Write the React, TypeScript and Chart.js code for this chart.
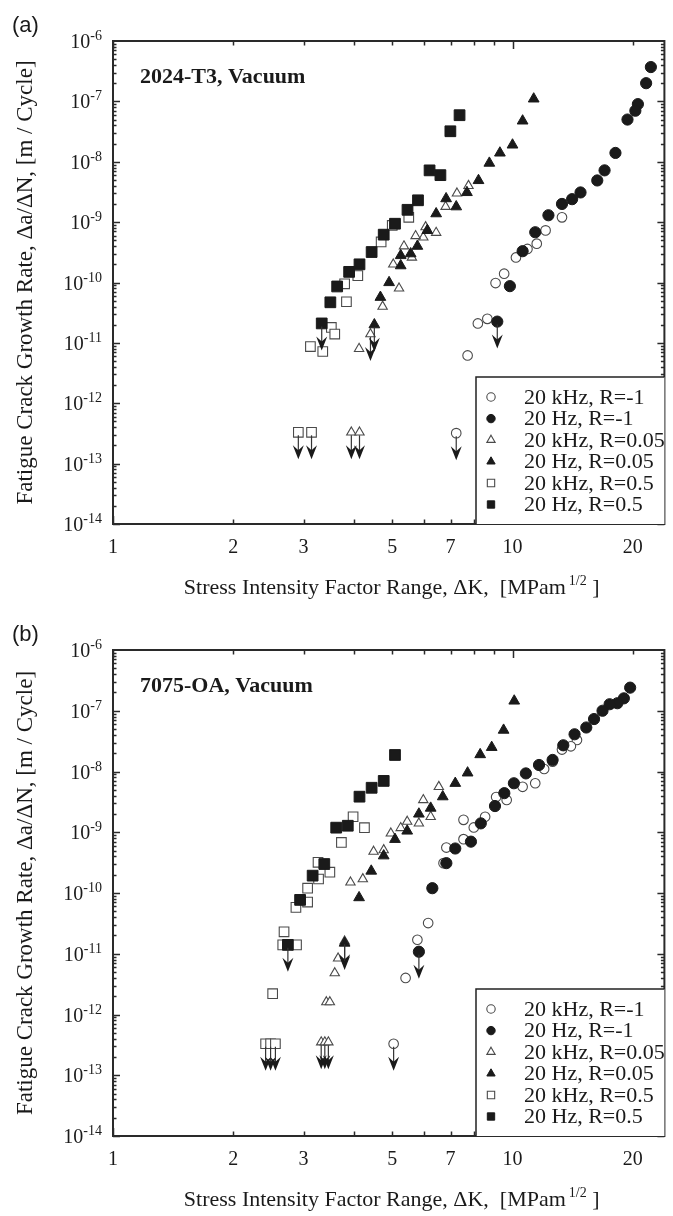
import React, { useEffect, useRef } from "react";
import { Chart, registerables } from "chart.js";

Chart.register(...registerables);

// ---------------- DATA (ΔK [MPa√m], da/dN [m/cycle]) ----------------
// Panel (a) 2024-T3, Vacuum
const A_KHZ_RM1: [number, number][] = [
  [13.3, 1.2e-9], [12.1, 7.3e-10], [11.5, 4.4e-10], [10.9, 3.6e-10], [10.2, 2.6e-10],
  [9.53, 1.4e-10], [9.07, 9.8e-11], [8.65, 2.5e-11], [8.19, 2.1e-11], [7.72, 6.2e-12],
];
const A_KHZ_RM1_LIM: [number, number][] = [[7.23, 3.2e-13]];

const A_HZ_RM1: [number, number][] = [
  [22.2, 3.7e-7], [21.6, 2.0e-7], [20.6, 9.0e-8], [20.3, 7.0e-8], [19.4, 5.0e-8],
  [18.1, 1.4e-8], [17.0, 7.2e-9], [16.3, 4.9e-9], [14.8, 3.1e-9], [14.1, 2.4e-9],
  [13.3, 2.0e-9], [12.3, 1.3e-9], [11.4, 6.8e-10], [10.6, 3.3e-10], [9.85, 8.7e-11],
];
const A_HZ_RM1_LIM: [number, number][] = [[9.16, 2.25e-11]];

const A_KHZ_R005: [number, number][] = [
  [7.76, 4.0e-9], [7.26, 3.0e-9], [6.8, 1.8e-9], [6.44, 6.7e-10], [6.06, 8.3e-10],
  [5.98, 5.6e-10], [5.72, 5.9e-10], [5.6, 2.6e-10], [5.35, 4.0e-10], [5.03, 2.0e-10],
  [5.2, 8.0e-11], [4.73, 4.0e-11], [4.13, 8.0e-12],
];
const A_KHZ_R005_LIM: [number, number][] = [[4.41, 1.4e-11], [3.95, 3.3e-13], [4.14, 3.3e-13]];

const A_HZ_R005: [number, number][] = [
  [11.3, 1.1e-7], [10.6, 4.75e-8], [10.0, 1.9e-8], [9.3, 1.4e-8], [8.75, 9.5e-9],
  [8.22, 4.9e-9], [7.69, 3.1e-9], [7.23, 1.8e-9], [6.82, 2.45e-9], [6.44, 1.38e-9],
  [6.12, 7.3e-10], [5.78, 4.0e-10], [5.56, 3.0e-10], [5.25, 2.8e-10], [5.25, 1.9e-10],
  [4.91, 1.0e-10], [4.67, 5.7e-11],
];
const A_HZ_R005_LIM: [number, number][] = [[4.51, 2.0e-11]];

const A_KHZ_R05: [number, number][] = [
  [5.5, 1.2e-9], [5.0, 8.8e-10], [4.69, 4.7e-10], [4.1, 1.3e-10], [3.8, 9.5e-11],
  [3.84, 4.8e-11], [3.52, 1.8e-11], [3.59, 1.4e-11], [3.12, 8.7e-12], [3.35, 7.2e-12],
];
const A_KHZ_R05_LIM: [number, number][] = [[2.91, 3.3e-13], [3.14, 3.3e-13]];

const A_HZ_R05: [number, number][] = [
  [7.37, 5.9e-8], [6.99, 3.2e-8], [6.2, 7.2e-9], [6.6, 6.0e-9], [5.8, 2.3e-9],
  [5.46, 1.6e-9], [5.08, 9.4e-10], [4.76, 6.2e-10], [4.44, 3.2e-10], [4.14, 2.0e-10],
  [3.9, 1.5e-10], [3.64, 8.6e-11], [3.5, 4.7e-11],
];
const A_HZ_R05_LIM: [number, number][] = [[3.33, 2.1e-11]];

// Panel (b) 7075-OA, Vacuum
const B_KHZ_RM1: [number, number][] = [
  [14.5, 3.3e-8], [14.0, 2.6e-8], [13.3, 2.3e-8], [12.6, 1.45e-8], [12.0, 1.1e-8],
  [11.4, 6.4e-9], [10.6, 5.6e-9], [9.67, 3.4e-9], [9.1, 3.8e-9], [8.54, 1.8e-9],
  [8.0, 1.2e-9], [7.54, 1.6e-9], [7.54, 7.7e-10], [6.83, 5.6e-10], [6.72, 3.1e-10],
  [6.15, 3.2e-11], [5.78, 1.7e-11], [5.4, 4.0e-12],
];
const B_KHZ_RM1_LIM: [number, number][] = [[5.04, 3.3e-13]];

const B_HZ_RM1: [number, number][] = [
  [19.7, 2.4e-7], [19.0, 1.6e-7], [18.3, 1.33e-7], [17.5, 1.28e-7], [16.8, 1.0e-7],
  [16.0, 7.3e-8], [15.3, 5.3e-8], [14.3, 4.1e-8], [13.4, 2.7e-8], [12.6, 1.55e-8],
  [11.65, 1.28e-8], [10.8, 9.3e-9], [10.08, 6.4e-9], [9.54, 4.4e-9], [9.04, 2.7e-9],
  [8.33, 1.4e-9], [7.87, 7.0e-10], [7.19, 5.4e-10], [6.83, 3.1e-10], [6.3, 1.2e-10],
];
const B_HZ_RM1_LIM: [number, number][] = [[5.83, 1.08e-11]];

const B_KHZ_R005: [number, number][] = [
  [6.54, 5.6e-9], [5.98, 3.4e-9], [6.24, 1.8e-9], [5.83, 1.4e-9], [5.45, 1.5e-9],
  [5.25, 1.18e-9], [4.96, 9.6e-10], [4.76, 5.1e-10], [4.49, 4.8e-10], [4.22, 1.7e-10],
  [3.93, 1.5e-10], [3.66, 8.4e-12], [3.59, 4.8e-12], [3.42, 1.6e-12], [3.49, 1.6e-12],
];
const B_KHZ_R005_LIM: [number, number][] = [
  [3.8, 1.6e-11], [3.32, 3.5e-13], [3.39, 3.5e-13], [3.46, 3.5e-13],
];

const B_HZ_R005: [number, number][] = [
  [10.1, 1.45e-7], [9.5, 4.8e-8], [8.87, 2.5e-8], [8.3, 1.9e-8], [7.72, 9.5e-9],
  [7.19, 6.4e-9], [6.69, 3.85e-9], [6.24, 2.5e-9], [5.83, 2.0e-9], [5.45, 1.05e-9],
  [5.08, 7.65e-10], [4.76, 4.1e-10], [4.43, 2.3e-10], [4.13, 8.4e-11],
];
const B_HZ_R005_LIM: [number, number][] = [[3.8, 1.5e-11]];

const B_KHZ_R05: [number, number][] = [
  [3.99, 1.8e-9], [4.26, 1.19e-9], [3.73, 6.8e-10], [3.26, 3.2e-10], [3.49, 2.2e-10],
  [3.27, 1.7e-10], [3.07, 1.2e-10], [3.07, 7.1e-11], [2.87, 5.8e-11], [2.68, 2.3e-11],
  [2.66, 1.4e-11], [2.88, 1.4e-11], [2.51, 2.2e-12],
];
const B_KHZ_R05_LIM: [number, number][] = [[2.41, 3.3e-13], [2.48, 3.3e-13], [2.55, 3.3e-13]];

const B_HZ_R05: [number, number][] = [
  [5.08, 1.87e-8], [4.76, 7.0e-9], [4.44, 5.4e-9], [4.14, 3.85e-9], [3.87, 1.28e-9],
  [3.62, 1.19e-9], [3.38, 3.0e-10], [3.16, 1.93e-10], [2.94, 7.7e-11],
];
const B_HZ_R05_LIM: [number, number][] = [[2.74, 1.4e-11]];

const SERIES_LABELS = [
  "20 kHz, R=-1", "20 Hz, R=-1", "20 kHz, R=0.05", "20 Hz, R=0.05", "20 kHz, R=0.5", "20 Hz, R=0.5",
];
const X_TICK_LABELS = [1, 2, 3, 5, 7, 10, 20];
const Y_DECADES = [-14, -13, -12, -11, -10, -9, -8, -7, -6];
const X_MIN = 1;
const X_MAX = 24;
const Y_MIN = 1e-14;
const Y_MAX = 1e-6;

// ---------------- STYLE ----------------
const SERIF = '"Liberation Serif", "Times New Roman", Times, serif';
const SANS = '"Liberation Sans", Arial, Helvetica, sans-serif';
const INK = "#1a1a1a";
const OPEN_EDGE = "#4a4a4a";

type Sty = { shape: "circle" | "triangle" | "rect"; filled: boolean; r: number; lr: number };
const STYLES: Sty[] = [
  { shape: "circle", filled: false, r: 4.8, lr: 4.2 },
  { shape: "circle", filled: true, r: 5.6, lr: 4.2 },
  { shape: "triangle", filled: false, r: 5.4, lr: 4.8 },
  { shape: "triangle", filled: true, r: 6.2, lr: 4.8 },
  { shape: "rect", filled: false, r: 6.8, lr: 5.2 },
  { shape: "rect", filled: true, r: 7.6, lr: 5.2 },
];

type Panel = {
  tag: string;
  title: string;
  series: [number, number][][];
  limits: [number, number][][];
  padTop: number;
  padBottom: number;
};

const PANEL_A: Panel = {
  tag: "(a)",
  title: "2024-T3, Vacuum",
  series: [A_KHZ_RM1, A_HZ_RM1, A_KHZ_R005, A_HZ_R005, A_KHZ_R05, A_HZ_R05],
  limits: [A_KHZ_RM1_LIM, A_HZ_RM1_LIM, A_KHZ_R005_LIM, A_HZ_R005_LIM, A_KHZ_R05_LIM, A_HZ_R05_LIM],
  padTop: 41,
  padBottom: 84,
};
const PANEL_B: Panel = {
  tag: "(b)",
  title: "7075-OA, Vacuum",
  series: [B_KHZ_RM1, B_HZ_RM1, B_KHZ_R005, B_HZ_R005, B_KHZ_R05, B_HZ_R05],
  limits: [B_KHZ_RM1_LIM, B_HZ_RM1_LIM, B_KHZ_R005_LIM, B_HZ_R005_LIM, B_KHZ_R05_LIM, B_HZ_R05_LIM],
  padTop: 42,
  padBottom: 80,
};

function drawSymbol(ctx: CanvasRenderingContext2D, s: Sty, x: number, y: number, r: number) {
  ctx.beginPath();
  if (s.shape === "circle") {
    ctx.arc(x, y, r, 0, Math.PI * 2);
  } else if (s.shape === "triangle") {
    for (let k = 0; k < 3; k++) {
      const a = (k * 2 * Math.PI) / 3;
      const px = x + Math.sin(a) * r;
      const py = y - Math.cos(a) * r;
      if (k === 0) ctx.moveTo(px, py);
      else ctx.lineTo(px, py);
    }
    ctx.closePath();
  } else {
    const h = r * Math.SQRT1_2;
    ctx.rect(x - h, y - h, 2 * h, 2 * h);
  }
  ctx.fillStyle = s.filled ? INK : "#fff";
  ctx.fill();
  ctx.lineWidth = s.filled ? 1 : 1.1;
  ctx.strokeStyle = s.filled ? INK : OPEN_EDGE;
  ctx.stroke();
}

function makeDecor(panel: Panel) {
  return {
    id: "decor",
    afterDatasetsDraw(chart: any) {
      const ctx: CanvasRenderingContext2D = chart.ctx;
      ctx.save();
      chart.data.datasets.forEach((ds: any, i: number) => {
        const meta = chart.getDatasetMeta(i);
        ds.data.forEach((d: any, j: number) => {
          if (!d.limit) return;
          const el = meta.data[j];
          const x = el.x;
          const y = el.y;
          ctx.beginPath();
          ctx.moveTo(x, y + 3);
          ctx.lineTo(x, y + 20);
          ctx.lineWidth = 1.2;
          ctx.strokeStyle = "#333";
          ctx.stroke();
          ctx.beginPath();
          ctx.moveTo(x, y + 27);
          ctx.lineTo(x - 5.5, y + 13);
          ctx.lineTo(x, y + 18);
          ctx.lineTo(x + 5.5, y + 13);
          ctx.closePath();
          ctx.fillStyle = INK;
          ctx.fill();
        });
      });
      ctx.restore();
    },
    afterDraw(chart: any) {
      const ctx: CanvasRenderingContext2D = chart.ctx;
      const { left, right, top, bottom } = chart.chartArea;
      const xs = chart.scales.x;
      const ys = chart.scales.y;
      ctx.save();

      // ticks (inward, mirrored)
      ctx.strokeStyle = "#2a2a2a";
      ctx.lineWidth = 1.5;
      ctx.beginPath();
      for (let e = -14; e < -6; e++) {
        for (let m = 1; m <= 9; m++) {
          const v = m * Math.pow(10, e);
          const py = Math.round(ys.getPixelForValue(v)) + 0.5;
          const len = m === 1 ? 7 : 3.5;
          ctx.moveTo(left, py);
          ctx.lineTo(left + len, py);
          ctx.moveTo(right, py);
          ctx.lineTo(right - len, py);
        }
      }
      for (let e = 0; e <= 1; e++) {
        for (let m = 1; m <= 9; m++) {
          const v = m * Math.pow(10, e);
          if (v > X_MAX) break;
          const px = Math.round(xs.getPixelForValue(v)) + 0.5;
          const len = m === 1 ? 8 : 4.5;
          ctx.moveTo(px, bottom);
          ctx.lineTo(px, bottom - len);
          ctx.moveTo(px, top);
          ctx.lineTo(px, top + len);
        }
      }
      ctx.stroke();

      // frame
      ctx.lineWidth = 2;
      ctx.strokeStyle = "#2a2a2a";
      ctx.strokeRect(left, top, right - left, bottom - top);

      ctx.fillStyle = INK;
      // y tick labels: 10^e
      ctx.textBaseline = "alphabetic";
      for (const e of Y_DECADES) {
        const py = ys.getPixelForValue(Math.pow(10, e));
        ctx.font = `14px ${SERIF}`;
        const sup = String(e);
        const sw = ctx.measureText(sup).width;
        const xr = left - 11;
        ctx.textAlign = "right";
        ctx.fillText(sup, xr, py - 1);
        ctx.font = `20px ${SERIF}`;
        ctx.fillText("10", xr - sw, py + 7);
      }
      // x tick labels
      ctx.font = `20px ${SERIF}`;
      ctx.textAlign = "center";
      for (const v of X_TICK_LABELS) {
        const px = xs.getPixelForValue(v);
        ctx.fillText(String(v), px, bottom + 29);
      }

      // x axis title with superscript
      const main = "Stress Intensity Factor Range, \u0394K,  [MPam";
      const supT = "1/2";
      const tail = " ]";
      ctx.font = `22px ${SERIF}`;
      const w1 = ctx.measureText(main).width;
      const w3 = ctx.measureText(tail).width;
      ctx.font = `14px ${SERIF}`;
      const w2 = ctx.measureText(supT).width;
      const gap = 3;
      const total = w1 + gap + w2 + w3;
      const cx = (left + right) / 2 + 3;
      let sx = cx - total / 2;
      const by = bottom + 70;
      ctx.textAlign = "left";
      ctx.font = `22px ${SERIF}`;
      ctx.fillText(main, sx, by);
      sx += w1 + gap;
      ctx.font = `14px ${SERIF}`;
      ctx.fillText(supT, sx, by - 9);
      sx += w2;
      ctx.font = `22px ${SERIF}`;
      ctx.fillText(tail, sx, by);

      // y axis title
      ctx.save();
      ctx.translate(26, (top + bottom) / 2);
      ctx.rotate(-Math.PI / 2);
      ctx.textAlign = "center";
      ctx.textBaseline = "middle";
      ctx.font = `23px ${SERIF}`;
      ctx.fillText("Fatigue Crack Growth Rate, \u0394a/\u0394N, [m / Cycle]", 0, 0);
      ctx.restore();

      // panel tag
      ctx.font = `22px ${SANS}`;
      ctx.textAlign = "left";
      ctx.textBaseline = "middle";
      ctx.fillText(panel.tag, 12, top - 15);

      // material title
      ctx.textBaseline = "alphabetic";
      ctx.font = `bold 22px ${SERIF}`;
      ctx.fillText(panel.title, 140, top + 42);

      // legend box
      const bx = 476;
      const btop = bottom - 147;
      ctx.fillStyle = "#fff";
      ctx.fillRect(bx, btop, right - bx, bottom - btop);
      ctx.lineWidth = 1.5;
      ctx.strokeStyle = "#222";
      ctx.beginPath();
      ctx.moveTo(bx, bottom);
      ctx.lineTo(bx, btop);
      ctx.lineTo(right, btop);
      ctx.stroke();
      const offs = [127, 105.4, 84, 62.4, 41, 19.5];
      SERIES_LABELS.forEach((lab, i) => {
        const yy = bottom - offs[i];
        drawSymbol(ctx, STYLES[i], 491, yy, STYLES[i].lr);
        ctx.fillStyle = INK;
        ctx.font = `22px ${SERIF}`;
        ctx.textAlign = "left";
        ctx.textBaseline = "middle";
        ctx.fillText(lab, 524, yy + 1);
      });

      ctx.restore();
    },
  };
}

function makeConfig(panel: Panel): any {
  const datasets = panel.series.map((pts, i) => {
    const s = STYLES[i];
    const data = [
      ...pts.map(([x, y]) => ({ x, y })),
      ...panel.limits[i].map(([x, y]) => ({ x, y, limit: true })),
    ];
    return {
      label: SERIES_LABELS[i],
      data,
      showLine: false,
      pointStyle: s.shape,
      pointRadius: s.r,
      pointBackgroundColor: s.filled ? INK : "#ffffff",
      pointBorderColor: s.filled ? INK : OPEN_EDGE,
      pointBorderWidth: s.filled ? 1 : 1.1,
      order: s.filled ? 0 : 1,
    };
  });
  return {
    type: "scatter",
    data: { datasets },
    options: {
      animation: false,
      responsive: false,
      maintainAspectRatio: false,
      devicePixelRatio: 1,
      events: [],
      layout: { padding: { left: 113, right: 3, top: panel.padTop, bottom: panel.padBottom } },
      scales: {
        x: { type: "logarithmic", min: X_MIN, max: X_MAX, display: false },
        y: { type: "logarithmic", min: Y_MIN, max: Y_MAX, display: false },
      },
      plugins: { legend: { display: false }, tooltip: { enabled: false } },
    },
    plugins: [makeDecor(panel)],
  };
}

export default function App() {
  const refA = useRef<HTMLCanvasElement | null>(null);
  const refB = useRef<HTMLCanvasElement | null>(null);
  useEffect(() => {
    const ca = new Chart(refA.current as HTMLCanvasElement, makeConfig(PANEL_A));
    const cb = new Chart(refB.current as HTMLCanvasElement, makeConfig(PANEL_B));
    return () => {
      ca.destroy();
      cb.destroy();
    };
  }, []);
  return (
    <div style={{ position: "absolute", left: 0, top: 0, width: 673, height: 1216, background: "#fff" }}>
      <canvas
        ref={refA}
        width={673}
        height={608}
        style={{ position: "absolute", left: 0, top: 0, width: 673, height: 608 }}
      />
      <canvas
        ref={refB}
        width={673}
        height={608}
        style={{ position: "absolute", left: 0, top: 608, width: 673, height: 608 }}
      />
    </div>
  );
}
